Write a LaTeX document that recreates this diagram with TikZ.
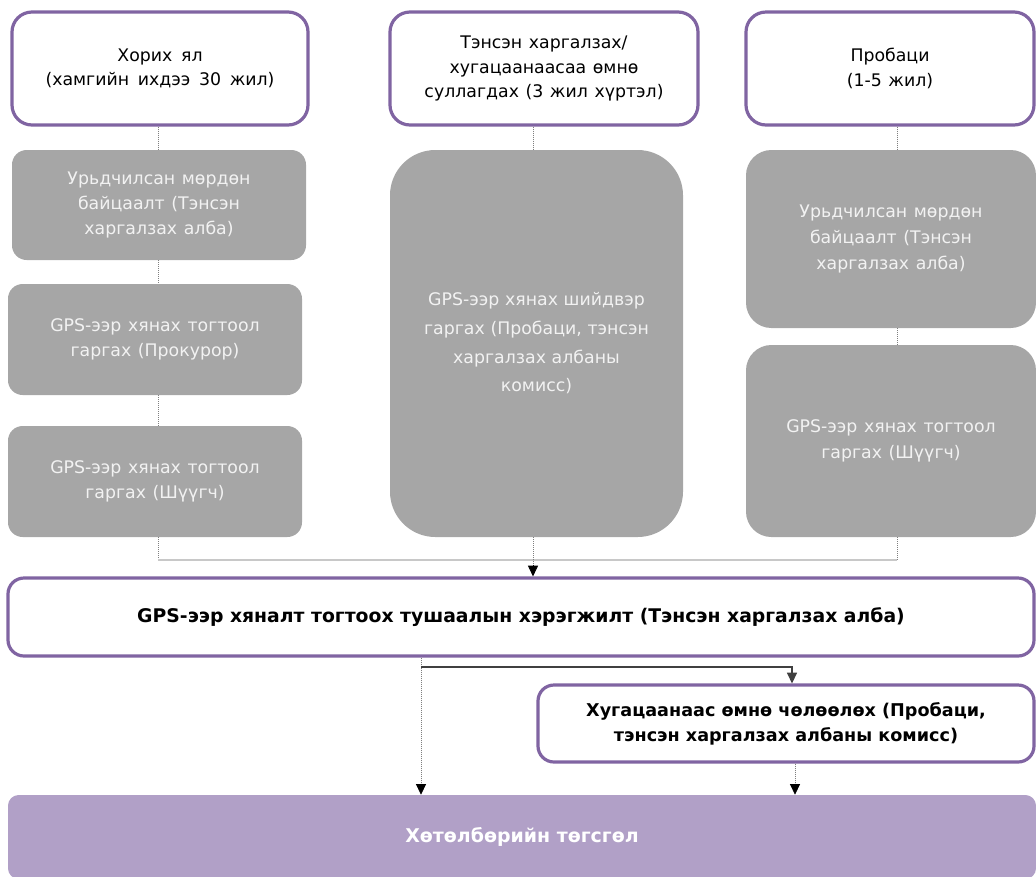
\documentclass[tikz,border=0pt]{standalone}
\usepackage{fontspec}
\setmainfont{DejaVu Sans}
\newfontfamily\boldf{DejaVu Sans Bold}
\usetikzlibrary{arrows.meta,calc}
\definecolor{purp}{HTML}{8064A2}
\definecolor{gfill}{HTML}{A6A6A6}
\definecolor{gtext}{HTML}{F2F2F2}
\definecolor{endfill}{HTML}{B1A0C7}
\definecolor{dotc}{HTML}{7F7F7F}
\definecolor{hline}{HTML}{C8C8C8}
\newcommand{\regf}[2]{\fontsize{13}{#2}\selectfont\spaceskip=#1 plus 0.1em\relax}
\begin{document}
\begin{tikzpicture}[x=0.75pt,y=-0.75pt,
  bw/.style={minimum width=#1*0.75pt},
  bh/.style={minimum height=#1*0.75pt},
  topbox/.style={draw=purp,line width=2.4pt,fill=white,rounded corners=15pt,align=center,
    font=\regf{0.38em}{18.5},inner sep=0pt},
  graybox/.style={fill=gfill,rounded corners=11pt,align=center,text=gtext,
    font=\regf{0.38em}{18.5},inner sep=0pt},
  endbox/.style={fill=endfill,rounded corners=8pt,align=center,text=white,
    font=\boldf\fontsize{14.2}{18}\selectfont,inner sep=0pt},
  boldbox/.style={draw=purp,line width=2.4pt,fill=white,rounded corners=12pt,align=center,
    font=\boldf\fontsize{13.2}{18.75}\selectfont,inner sep=0pt},
  dotline/.style={draw=dotc,line width=0.6pt,dash pattern=on 0.75pt off 0.75pt},
]
\useasboundingbox (0,0) rectangle (1036,876);

% top boxes
\node[topbox,bw=296,bh=113,font=\regf{0.5em}{18.5}] (t1) at (160,68.5) {Хорих ял\\(хамгийн ихдээ 30 жил)};
\node[topbox,bw=308,bh=113] (t2) at (544,68.5) {Тэнсэн харгалзах/\\хугацаанаасаа өмнө\\суллагдах (3 жил хүртэл)};
\node[topbox,bw=288,bh=113] (t3) at (890,68.5) {Пробаци\\(1-5 жил)};

% gray boxes
\node[graybox,bw=294,bh=110] (g1) at (159,205) {Урьдчилсан мөрдөн\\байцаалт (Тэнсэн\\харгалзах алба)};
\node[graybox,bw=294,bh=111] (g2) at (155,339.5) {GPS-ээр хянах тогтоол\\гаргах (Прокурор)};
\node[graybox,bw=294,bh=111] (g3) at (155,481.5) {GPS-ээр хянах тогтоол\\гаргах (Шүүгч)};
\node[graybox,rounded corners=34pt,bw=293,bh=387,font=\regf{0.33em}{21.5}] (gm) at (536.5,343.5) {GPS-ээр хянах шийдвэр\\гаргах (Пробаци, тэнсэн\\харгалзах албаны\\комисс)};
\node[graybox,rounded corners=19pt,bw=290,bh=178,font=\regf{0.38em}{19.5}] (gr1) at (891,239) {Урьдчилсан мөрдөн\\байцаалт (Тэнсэн\\харгалзах алба)};
\node[graybox,rounded corners=19pt,bw=290,bh=192,font=\regf{0.38em}{19.5}] (gr2) at (891,441) {GPS-ээр хянах тогтоол\\гаргах (Шүүгч)};

% lower boxes
\node[boldbox,bw=1026,bh=78,font=\boldf\fontsize{14.1}{18}\selectfont] (big) at (521,617) {GPS-ээр хяналт тогтоох тушаалын хэрэгжилт (Тэнсэн харгалзах алба)};
\node[boldbox,bw=496,bh=77] (rel) at (786,723.5) {Хугацаанаас өмнө чөлөөлөх (Пробаци,\\тэнсэн харгалзах албаны комисс)};
\node[endbox,bw=1028,bh=84] (fin) at (522,837) {Хөтөлбөрийн төгсгөл};

% coordinates
\coordinate (jl) at (158,560);
\coordinate (jm) at (533,560);
\coordinate (jr) at (897,560);
\coordinate (ax) at (421,667);
\coordinate (bx) at (792,667);
\coordinate (cx) at (795,0);

% dotted connectors left column
\draw[dotline] (t1.south -| jl) -- (g1.north -| jl);
\draw[dotline] (g1.south -| jl) -- (g2.north -| jl);
\draw[dotline] (g2.south -| jl) -- (g3.north -| jl);
\draw[dotline] (g3.south -| jl) -- (jl);
% middle
\draw[dotline] (t2.south -| jm) -- (gm.north -| jm);
% right
\draw[dotline] (t3.south -| jr) -- (gr1.north -| jr);
\draw[dotline] (gr1.south -| jr) -- (gr2.north -| jr);
\draw[dotline] (gr2.south -| jr) -- (jr);
% junction line
\draw[hline,line width=1.1pt] (jl) -- (jr);
\draw[dotline] (gm.south -| jm) -- ($(big.north -| jm)+(0,-10)$);
\path[-{Triangle[width=7.5pt,length=8pt]},black,line width=0.6pt] ($(big.north -| jm)+(0,-11)$) edge (big.north -| jm);

% lower connectors
\draw[dotline] (big.south -| ax) -- ($(fin.north -| ax)+(0,-10)$);
\path[-{Triangle[width=7.5pt,length=8pt]},black,line width=0.6pt] ($(fin.north -| ax)+(0,-11)$) edge (fin.north -| ax);
\draw[-{Triangle[width=7.5pt,length=8pt]},draw=black!75,line width=1pt] (ax) -- (bx) -- (rel.north -| bx);
\draw[dotline] (rel.south -| cx) -- ($(fin.north -| cx)+(0,-10)$);
\path[-{Triangle[width=7.5pt,length=8pt]},black,line width=0.6pt] ($(fin.north -| cx)+(0,-11)$) edge (fin.north -| cx);
\end{tikzpicture}
\end{document}
